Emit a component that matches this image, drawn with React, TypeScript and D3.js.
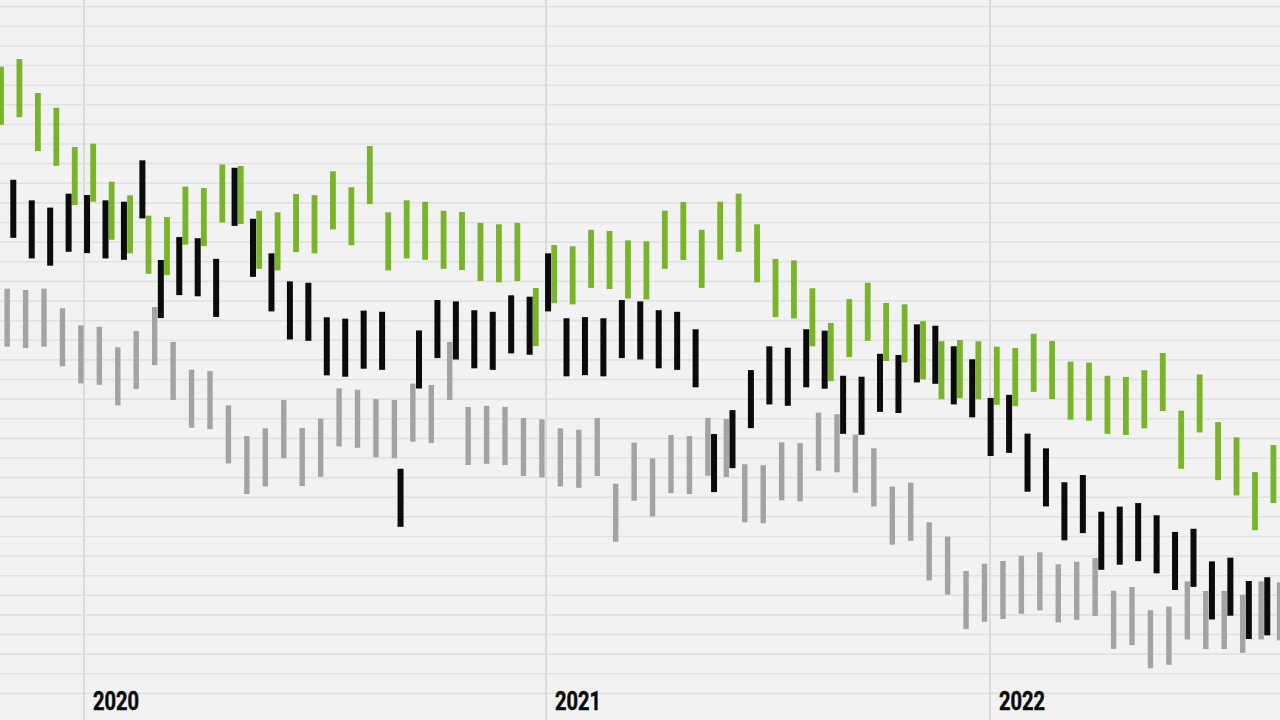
import React from "react";
import * as d3 from "d3";

// Period index 0..69 ; three interleaved series (green, gray, black)
const greenHigh = [
  31.94, 32.33, 30.6, 29.85, 27.85, 28.02, 26.08, 25.39, 24.35, 24.28,
  25.83, 25.76, 26.96, 26.88, 24.6, 24.52, 25.45, 25.39, 26.61, 25.8,
  27.9, 24.52, 25.13, 25.06, 24.6, 24.54, 23.98, 23.91, 23.98, 20.66,
  22.85, 22.79, 23.63, 23.57, 23.09, 23.04, 24.6, 25.05, 23.63, 25.06,
  25.47, 23.91, 22.14, 22.07, 20.65, 18.88, 20.1, 20.93, 19.9, 19.83,
  18.97, 17.95, 18.01, 17.95, 17.67, 17.6, 18.33, 17.96, 16.91, 16.86,
  16.19, 16.13, 16.47, 17.35, 14.41, 16.26, 13.83, 13.05, 11.28, 12.66,
];

const grayHigh = [
  20.63, 20.56, 20.63, 19.63, 18.76, 18.69, 17.64, 18.47, 19.69, 17.91,
  16.5, 16.43, 14.68, 13.12, 13.51, 14.95, 13.53, 14.0, 15.55, 15.48,
  15.0, 14.95, 15.79, 15.72, 17.91, 14.6, 14.66, 14.6, 14.04, 13.97,
  13.51, 13.44, 14.04, 10.69, 12.78, 11.98, 13.17, 13.12, 14.05, 13.99,
  11.68, 11.63, 12.8, 12.75, 14.31, 14.23, 13.19, 12.49, 10.54, 10.74,
  8.72, 7.99, 6.24, 6.61, 6.75, 7.02, 7.19, 6.58, 6.71, 6.9,
  5.23, 5.42, 4.24, 4.42, 5.71, 5.22, 5.22, 5.03, 5.71, 5.66,
];

const blackHigh = [
  26.18, 25.13, 24.76, 25.47, 25.4, 25.13, 25.06, 27.17, 22.09, 23.26,
  23.2, 22.15, 26.79, 24.19, 22.43, 21.0, 20.93, 19.17, 19.1, 19.51,
  19.45, 11.45, 18.5, 20.05, 19.98, 19.53, 19.45, 20.29, 20.22, 22.43,
  19.12, 19.18, 19.12, 20.05, 19.98, 19.53, 19.45, 18.56, 13.22, 14.44,
  16.48, 17.69, 17.62, 18.56, 18.49, 16.19, 16.14, 17.31, 17.25, 18.81,
  18.74, 17.69, 17.03, 15.06, 15.22, 13.24, 12.49, 10.76, 11.13, 9.26,
  9.52, 9.7, 9.08, 8.23, 8.39, 6.73, 6.92, 5.73, 5.92,
];

const yearLabels = ["2020", "2021", "2022"];
const yearPositions = [4.5, 29.56, 53.63]; // in period units

const BAR_SPAN = 2.96; // every range bar covers the same span

const series = [
  { name: "gray", values: grayHigh, offset: 1 / 3, color: "#a3a3a3", width: 5.4 },
  { name: "green", values: greenHigh, offset: 0, color: "#79b42a", width: 5.8 },
  { name: "black", values: blackHigh, offset: 2 / 3, color: "#0b0b0b", width: 6 },
];

const W = 1280;
const H = 720;

export default function App() {
  const x = d3.scaleLinear().domain([0, 69]).range([1, 1273.4]);
  const y = d3.scaleLinear().domain([0, 35]).range([693.4, 6.7]);
  const gridVals = d3.range(0, 36);

  return (
    <div style={{ position: "absolute", left: 0, top: 0, width: W, height: H }}>
      <svg width={W} height={H} style={{ display: "block" }}>
        <rect x={0} y={0} width={W} height={H} fill="#f2f2f2" />
        <g>
          {gridVals.map((v) => (
            <line
              key={v}
              x1={0}
              x2={W}
              y1={y(v)}
              y2={y(v)}
              stroke="#e1e1e1"
              strokeWidth={1.6}
            />
          ))}
        </g>
        <g>
          {yearPositions.map((p, i) => (
            <line
              key={yearLabels[i]}
              x1={x(p)}
              x2={x(p)}
              y1={0}
              y2={H}
              stroke="#dadada"
              strokeWidth={2}
            />
          ))}
        </g>
        {series.map((s) => (
          <g key={s.name}>
            {s.values.map((v, i) => {
              const cx = x(i + s.offset);
              const top = y(v);
              const bottom = y(v - BAR_SPAN);
              return (
                <rect
                  key={i}
                  x={cx - s.width / 2}
                  y={top}
                  width={s.width}
                  height={bottom - top}
                  fill={s.color}
                />
              );
            })}
          </g>
        ))}
        <g>
          {yearPositions.map((p, i) => (
            <text
              key={yearLabels[i]}
              x={x(p) + 9}
              y={710}
              fontFamily="Roboto, 'DejaVu Sans', sans-serif"
              fontWeight={700}
              fontSize={25}
              fill="#0a0a0a"
              stroke="#0a0a0a"
              strokeWidth={0.5}
              textLength={46}
              lengthAdjust="spacingAndGlyphs"
            >
              {yearLabels[i]}
            </text>
          ))}
        </g>
      </svg>
    </div>
  );
}
